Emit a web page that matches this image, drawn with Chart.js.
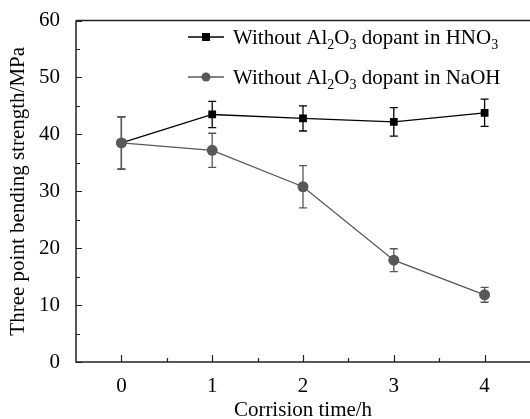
<!DOCTYPE html>
<html>
<head>
    <meta charset="UTF-8">
    <title>Bending strength vs corrosion time</title>
    <script src="https://cdn.jsdelivr.net/npm/chart.js"></script>
    <style>
        html, body { margin: 0; padding: 0; background: #fff; }
        #wrap { width: 530px; height: 419px; }
    </style>
</head>
<body>
    <div id="wrap"><canvas id="chart"></canvas></div>
    <script>
        // data
        var hours = [0, 1, 2, 3, 4];
        var hno3Mean = [38.5, 43.5, 42.8, 42.2, 43.8];
        var hno3Err = [4.6, 2.3, 2.2, 2.5, 2.4];
        var naohMean = [38.5, 37.2, 30.8, 17.9, 11.8];
        var naohErr = [4.6, 3.0, 3.7, 2.0, 1.3];
        var xTicks = [0, 1, 2, 3, 4];
        var yTicks = [0, 10, 20, 30, 40, 50, 60];

        var FONT = '"Liberation Serif", "Times New Roman", serif';

        function pts(means) {
            return hours.map(function (h, i) { return { x: h, y: means[i] }; });
        }

        // error bars, inward ticks, top border and the legend with subscripts
        var decor = {
            id: 'decor',
            beforeDatasetsDraw: function (chart) {
                var ctx = chart.ctx, xs = chart.scales.x, ys = chart.scales.y;
                var sets = [[hno3Mean, hno3Err, '#000'], [naohMean, naohErr, '#585858']];
                ctx.save();
                ctx.lineWidth = 1.3;
                sets.forEach(function (s) {
                    ctx.strokeStyle = s[2];
                    hours.forEach(function (h, i) {
                        var x = xs.getPixelForValue(h);
                        var y1 = ys.getPixelForValue(s[0][i] + s[1][i]);
                        var y2 = ys.getPixelForValue(s[0][i] - s[1][i]);
                        ctx.beginPath();
                        ctx.moveTo(x, y1); ctx.lineTo(x, y2);
                        ctx.moveTo(x - 4, y1); ctx.lineTo(x + 4, y1);
                        ctx.moveTo(x - 4, y2); ctx.lineTo(x + 4, y2);
                        ctx.stroke();
                    });
                });
                ctx.restore();
            },
            afterDraw: function (chart) {
                var ctx = chart.ctx, a = chart.chartArea, xs = chart.scales.x, ys = chart.scales.y;
                ctx.save();
                ctx.strokeStyle = '#222';
                ctx.lineWidth = 1.5;
                ctx.beginPath();
                ctx.moveTo(a.left, a.top); ctx.lineTo(a.right, a.top);
                ctx.moveTo(a.left, a.top); ctx.lineTo(a.left, a.bottom);
                ctx.lineTo(a.right, a.bottom);
                ctx.stroke();
                ctx.lineWidth = 1.2;
                ctx.beginPath();
                for (var v = 0; v <= 60; v += 5) {
                    var y = Math.round(ys.getPixelForValue(v)) + 0.5;
                    ctx.moveTo(a.left, y); ctx.lineTo(a.left + (v % 10 === 0 ? 6 : 4), y);
                }
                for (var t = 0; t <= 4.01; t += 0.5) {
                    var x = Math.round(xs.getPixelForValue(t)) + 0.5;
                    ctx.moveTo(x, a.bottom); ctx.lineTo(x, a.bottom - (t % 1 === 0 ? 7 : 4));
                }
                ctx.stroke();

                // legend
                var rows = [
                    ['Without Al', '2', 'O', '3', ' dopant in HNO', '3', '#000', 'rect'],
                    ['Without Al', '2', 'O', '3', ' dopant in NaOH', '', '#585858', 'circle']
                ];
                var lx = 188, rowY = [37, 77];
                rows.forEach(function (r, i) {
                    var y = rowY[i];
                    ctx.strokeStyle = r[6];
                    ctx.fillStyle = r[6];
                    ctx.lineWidth = 1.3;
                    ctx.beginPath();
                    ctx.moveTo(lx, y); ctx.lineTo(lx + 36, y);
                    ctx.stroke();
                    if (r[7] === 'rect') {
                        ctx.fillRect(lx + 14, y - 4, 8, 8);
                    } else {
                        ctx.beginPath(); ctx.arc(lx + 18, y, 4.5, 0, Math.PI * 2); ctx.fill();
                    }
                    ctx.fillStyle = '#000';
                    ctx.textBaseline = 'alphabetic';
                    var tx = lx + 45, base = y + 7;
                    for (var k = 0; k < 6; k++) {
                        var sub = (k % 2 === 1);
                        ctx.font = (sub ? '14px ' : '21px ') + FONT;
                        ctx.fillText(r[k], tx, base + (sub ? 5 : 0));
                        tx += ctx.measureText(r[k]).width;
                    }
                });
                ctx.restore();
            }
        };

        new Chart(document.getElementById('chart'), {
            type: 'line',
            data: {
                datasets: [{
                    label: 'Without Al2O3 dopant in HNO3',
                    data: pts(hno3Mean),
                    borderColor: '#000',
                    backgroundColor: '#000',
                    borderWidth: 1.3,
                    pointStyle: 'rect',
                    pointRadius: 5.5,
                    pointBorderWidth: 0,
                    order: 2
                }, {
                    label: 'Without Al2O3 dopant in NaOH',
                    data: pts(naohMean),
                    borderColor: '#585858',
                    backgroundColor: '#585858',
                    borderWidth: 1.3,
                    pointStyle: 'circle',
                    pointRadius: 5.5,
                    pointBorderWidth: 0,
                    order: 1
                }]
            },
            options: {
                responsive: true,
                maintainAspectRatio: false,
                animation: false,
                layout: { autoPadding: false, padding: { top: 20, right: 0, left: 0, bottom: 0 } },
                plugins: { legend: { display: false }, tooltip: { enabled: false } },
                scales: {
                    x: {
                        type: 'linear',
                        min: -0.5,
                        max: 4.5,
                        grid: { display: false },
                        border: { display: false },
                        afterBuildTicks: function (s) {
                            s.ticks = xTicks.map(function (v) { return { value: v }; });
                        },
                        afterFit: function (s) {
                            s.height = 57;
                        },
                        ticks: { color: '#000', font: { family: FONT, size: 21 }, padding: 4, maxRotation: 0 },
                        title: {
                            display: true,
                            text: 'Corrision time/h',
                            color: '#000',
                            font: { family: FONT, size: 21 },
                            padding: { top: 0, bottom: -4 }
                        }
                    },
                    y: {
                        min: 0,
                        max: 60,
                        grid: { display: false },
                        border: { display: false },
                        afterBuildTicks: function (s) {
                            s.ticks = yTicks.map(function (v) { return { value: v }; });
                        },
                        afterFit: function (s) {
                            s.width = 76;
                        },
                        ticks: { color: '#000', font: { family: FONT, size: 21 }, padding: 8 },
                        title: {
                            display: true,
                            text: 'Three point bending strength/MPa',
                            color: '#000',
                            font: { family: FONT, size: 21 },
                            padding: { top: 6, bottom: 0 }
                        }
                    }
                }
            },
            plugins: [decor]
        });
    </script>
</body>
</html>
